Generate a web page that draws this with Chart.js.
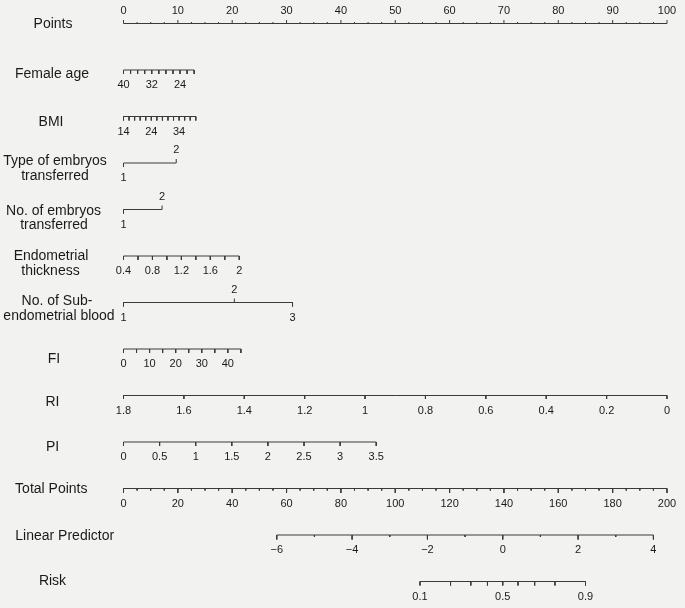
<!DOCTYPE html>
<html>
<head>
<meta charset="utf-8">
<script src="https://cdn.jsdelivr.net/npm/chart.js@4.4.1/dist/chart.umd.min.js"></script>
<style>
  html, body { margin: 0; padding: 0; background: #f2f2f0; }
  canvas { display: block; }
</style>
</head>
<body>
<canvas id="nomogram" width="685" height="608"></canvas>
<script>
// ---- data ----
const rowTitles = [
  ['Points'], ['Female age'], ['BMI'], ['Type of embryos', 'transferred'],
  ['No. of embryos', 'transferred'], ['Endometrial', 'thickness'],
  ['No. of Sub-', 'endometrial blood'], ['FI'], ['RI'], ['PI'],
  ['Total Points'], ['Linear Predictor'], ['Risk']
];

const pointsLabels = [0, 10, 20, 30, 40, 50, 60, 70, 80, 90, 100];
const pointsMinorStep = 2.5;

const ageRange = [40, 20];
const agePoints = [0, 13];
const ageStep = 2;
const ageLabels = [40, 32, 24];

const bmiRange = [14, 40];
const bmiPoints = [0, 13.3];
const bmiStep = 2;
const bmiLabels = [14, 24, 34];

const embryoTypeLevels = [1, 2];
const embryoTypePoints = [0, 9.7];

const embryoCountLevels = [1, 2];
const embryoCountPoints = [0, 7.1];

const thicknessRange = [0.4, 2];
const thicknessPoints = [0, 21.3];
const thicknessStep = 0.2;
const thicknessLabels = [0.4, 0.8, 1.2, 1.6, 2];

const bloodLevels = [1, 2, 3];
const bloodPoints = [0, 20.4, 31.1];

const fiRange = [0, 45];
const fiPoints = [0, 21.6];
const fiStep = 5;
const fiLabels = [0, 10, 20, 30, 40];

const riRange = [1.8, 0];
const riPoints = [0, 100];
const riStep = 0.2;
const riLabels = [1.8, 1.6, 1.4, 1.2, 1, 0.8, 0.6, 0.4, 0.2, 0];

const piRange = [0, 3.5];
const piPoints = [0, 46.5];
const piStep = 0.5;
const piLabels = [0, 0.5, 1, 1.5, 2, 2.5, 3, 3.5];

const totalRange = [0, 200];
const totalStep = 5;
const totalLabels = [0, 20, 40, 60, 80, 100, 120, 140, 160, 180, 200];

const lpRange = [-6, 4];
const lpTotal = [56.4, 195.0];
const lpStep = 1;
const lpLabels = [-6, -4, -2, 0, 2, 4];

const riskTicks = [0.1, 0.2, 0.3, 0.4, 0.5, 0.6, 0.7, 0.8, 0.9];
const riskLabels = [0.1, 0.5, 0.9];

// ---- layout ----
const PAD = { left: 123.5, right: 18, top: 23.5, bottom: 26.5 };
const ROW_PX = (608 - PAD.top - PAD.bottom) / 12;
const LINE = '#3a3a3a';
const TEXT = '#1a1a1a';
const titleLayout = [
  { x: [53], dy: [1] }, { x: [52], dy: [4] }, { x: [51], dy: [5.5] },
  { x: [55, 55], dy: [-2, 13] }, { x: [53.5, 54], dy: [1.5, 16] },
  { x: [51, 50.5], dy: [0, 15] }, { x: [57, 59], dy: [-1.7, 13.3] },
  { x: [54], dy: [10] }, { x: [52.5], dy: [7] }, { x: [52.5], dy: [5] },
  { x: [51.3], dy: [0.4] }, { x: [64.7], dy: [0.7] }, { x: [52.5], dy: [0] }
];

// map a value on a linear variable onto the points scale
const lin = (range, pts) => v => pts[0] + (v - range[0]) / (range[1] - range[0]) * (pts[1] - pts[0]);
const steps = (a, b, s) => {
  const out = [];
  const n = Math.round(Math.abs(b - a) / s);
  for (let i = 0; i <= n; i++) out.push(a + Math.sign(b - a) * s * i);
  return out;
};
const fmt = v => {
  const s = String(Math.round(v * 1000) / 1000);
  return s.startsWith('-') ? '\u2212' + s.slice(1) : s;
};

const totalToPts = lin(totalRange, [0, 100]);
const lpToPts = v => totalToPts(lin(lpRange, lpTotal)(v));
const riskToPts = p => lpToPts(Math.log(p / (1 - p)));

// each axis: row, ticks [{p, len, up}], labels [{p, text, up}]
const axes = [];
function linearAxis(row, range, toPts, step, labels, opts = {}) {
  const major = opts.major || 4, minor = opts.minor || major;
  const up = !!opts.up;
  const labelSet = labels.map(v => Math.round(v * 1000));
  const ticks = steps(range[0], range[1], step).map(v => ({
    p: toPts(v), len: labelSet.includes(Math.round(v * 1000)) ? major : minor, up
  }));
  axes.push({
    row, ticks,
    labels: labels.map(v => ({ p: toPts(v), text: fmt(v), up }))
  });
}
function levelAxis(row, levels, pts, ups) {
  axes.push({
    row,
    ticks: levels.map((v, i) => ({ p: pts[i], len: 4, up: ups[i] })),
    labels: levels.map((v, i) => ({ p: pts[i], text: fmt(v), up: ups[i] }))
  });
}

linearAxis(0, [0, 100], v => v, pointsMinorStep, pointsLabels, { major: 3.5, minor: 1.5, up: true });
linearAxis(1, ageRange, lin(ageRange, agePoints), ageStep, ageLabels, { major: 4, minor: 4 });
linearAxis(2, bmiRange, lin(bmiRange, bmiPoints), bmiStep, bmiLabels, { major: 4, minor: 4 });
levelAxis(3, embryoTypeLevels, embryoTypePoints, [false, true]);
levelAxis(4, embryoCountLevels, embryoCountPoints, [false, true]);
linearAxis(5, thicknessRange, lin(thicknessRange, thicknessPoints), thicknessStep, thicknessLabels, { major: 4, minor: 4 });
levelAxis(6, bloodLevels, bloodPoints, [false, true, false]);
linearAxis(7, fiRange, lin(fiRange, fiPoints), fiStep, fiLabels, { major: 4, minor: 4 });
linearAxis(8, riRange, lin(riRange, riPoints), riStep, riLabels, { major: 3.5 });
linearAxis(9, piRange, lin(piRange, piPoints), piStep, piLabels, { major: 4 });
linearAxis(10, totalRange, totalToPts, totalStep, totalLabels, { major: 4.5, minor: 2 });
linearAxis(11, lpRange, lpToPts, lpStep, lpLabels, { major: 4.5, minor: 2 });
axes.push({
  row: 12,
  ticks: riskTicks.map(p => ({ p: riskToPts(p), len: 4, up: false })),
  labels: riskLabels.map(p => ({ p: riskToPts(p), text: fmt(p), up: false }))
});

// line dataset per axis: the baseline plus every tick, split by gaps
const datasets = axes.map(ax => {
  const ps = ax.ticks.map(t => t.p);
  const lo = Math.min(...ps), hi = Math.max(...ps);
  const data = [{ x: lo, y: ax.row }, { x: hi, y: ax.row }, { x: hi, y: null }];
  ax.ticks.forEach(t => {
    const d = t.len / ROW_PX;
    data.push({ x: t.p, y: ax.row }, { x: t.p, y: ax.row + (t.up ? -d : d) }, { x: t.p, y: null });
  });
  return {
    data, borderColor: LINE, borderWidth: 1, pointRadius: 0,
    spanGaps: false, clip: false, tension: 0
  };
});

const textPlugin = {
  id: 'nomogramText',
  beforeDraw(chart) {
    const c = chart.ctx;
    c.save();
    c.fillStyle = '#f2f2f0';
    c.fillRect(0, 0, chart.width, chart.height);
    c.restore();
  },
  afterDraw(chart) {
    const c = chart.ctx, xs = chart.scales.x, ys = chart.scales.y;
    c.save();
    c.fillStyle = TEXT;
    c.textAlign = 'center';
    c.textBaseline = 'middle';
    c.font = '11px "Liberation Sans", Arial, sans-serif';
    axes.forEach(ax => {
      const y0 = ys.getPixelForValue(ax.row);
      ax.labels.forEach(l => {
        c.fillText(l.text, xs.getPixelForValue(l.p), y0 + (l.up ? -13 : 15));
      });
    });
    c.font = '14px "Liberation Sans", Arial, sans-serif';
    rowTitles.forEach((lines, i) => {
      const y0 = ys.getPixelForValue(i);
      const lay = titleLayout[i];
      lines.forEach((t, k) => c.fillText(t, lay.x[k], y0 + lay.dy[k]));
    });
    c.restore();
  }
};

new Chart(document.getElementById('nomogram'), {
  type: 'line',
  data: { datasets },
  options: {
    responsive: false,
    animation: false,
    layout: { padding: PAD },
    plugins: { legend: { display: false }, tooltip: { enabled: false } },
    scales: {
      x: { type: 'linear', min: 0, max: 100, display: false },
      y: { type: 'linear', min: 0, max: 12, reverse: true, display: false }
    }
  },
  plugins: [textPlugin]
});
</script>
</body>
</html>
